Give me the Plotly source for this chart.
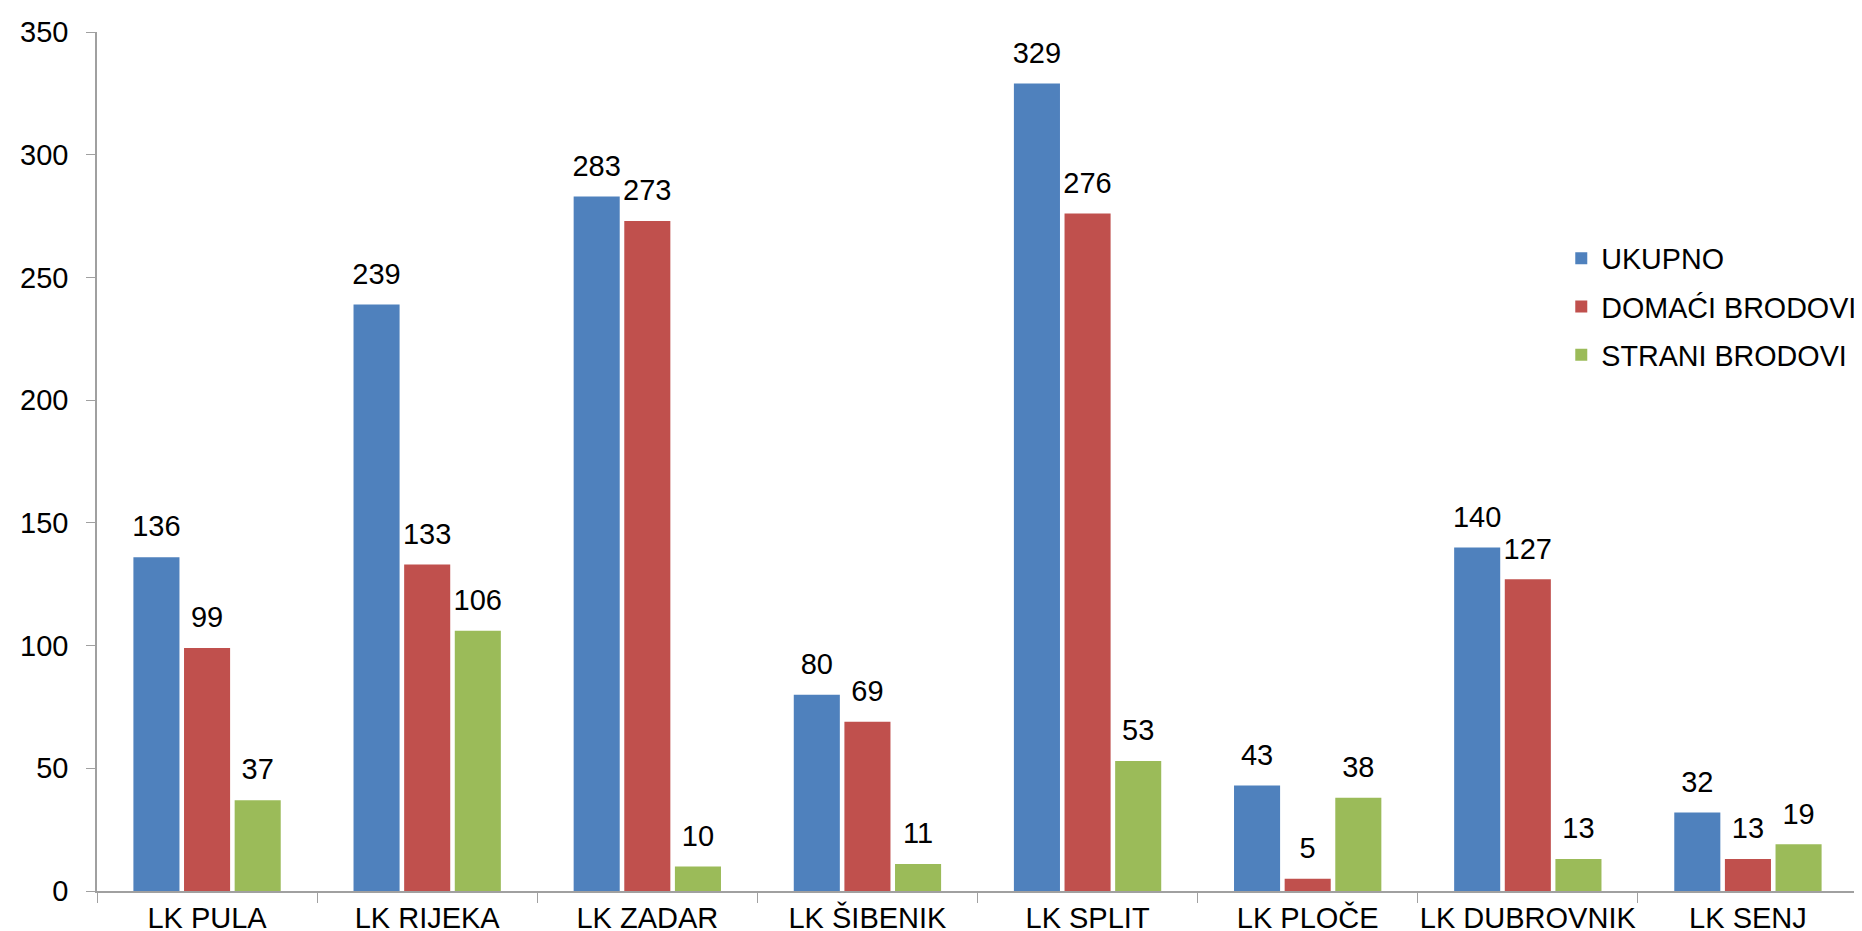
import plotly.graph_objects as go

categories = ["LK PULA", "LK RIJEKA", "LK ZADAR", "LK ŠIBENIK", "LK SPLIT", "LK PLOČE", "LK DUBROVNIK", "LK SENJ"]
ukupno = [136, 239, 283, 80, 329, 43, 140, 32]
domaci = [99, 133, 273, 69, 276, 5, 127, 13]
strani = [37, 106, 10, 11, 53, 38, 13, 19]
series_names = ["UKUPNO", "DOMAĆI BRODOVI", "STRANI BRODOVI"]
colors = ["#4F81BD", "#C0504D", "#9BBB59"]
y_ticks = [0, 50, 100, 150, 200, 250, 300, 350]

FONT = "Liberation Sans, Arial, sans-serif"
FS = 29
fig = go.Figure()
for name, vals, col in zip(series_names, [ukupno, domaci, strani], colors):
    fig.add_trace(go.Bar(
        x=categories, y=vals, name=name, legendgroup=name,
        marker=dict(color=col, line=dict(width=0)),
        offsetgroup=name,
    ))
for name, vals in zip(series_names, [ukupno, domaci, strani]):
    fig.add_trace(go.Scatter(
        x=categories, y=vals, mode="markers+text", showlegend=False,
        text=[str(v) for v in vals], textposition="top center",
        textfont=dict(size=FS, color="black", family=FONT),
        marker=dict(size=20, color="rgba(0,0,0,0)"),
        offsetgroup=name, cliponaxis=False, hoverinfo="skip",
    ))

fig.update_layout(
    width=1862, height=931,
    margin=dict(l=89, r=12, t=24, b=48, autoexpand=False),
    paper_bgcolor="white", plot_bgcolor="white",
    barmode="group", bargap=0.31, bargroupgap=0.09,
    scattermode="group", scattergap=0.31,
    font=dict(family=FONT, size=FS, color="black"),
    showlegend=True,
    legend=dict(x=0.8315, y=0.766, xanchor="left", yanchor="top",
                font=dict(size=28.7, color="black", family=FONT),
                bgcolor="rgba(0,0,0,0)", itemwidth=30,
                traceorder="grouped", tracegroupgap=8),
)
fig.update_xaxes(
    type="category", showline=True, linecolor="#A0A0A0", linewidth=1.5,
    ticks="outside", tickson="boundaries", ticklen=10, tickcolor="#A0A0A0",
    tickfont=dict(size=FS, color="black", family=FONT), showgrid=False,
    tickangle=0, automargin=False,
)
fig.update_yaxes(
    range=[0, 350], tickvals=y_ticks, showline=True, linecolor="#A0A0A0", linewidth=1.5,
    ticks="outside", ticklen=9, tickcolor="#A0A0A0", showgrid=False, zeroline=False,
    tickfont=dict(size=FS, color="black", family=FONT), automargin=False,
    ticklabelstandoff=12,
)

fig.write_html("out.html")
